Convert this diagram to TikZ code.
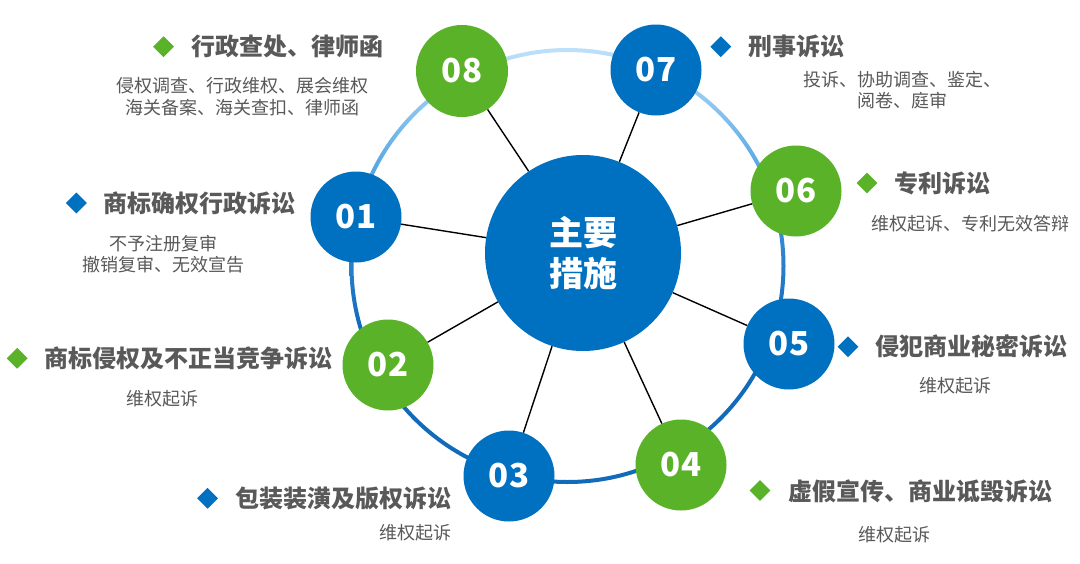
\documentclass[tikz,border=0pt]{standalone}
\usepackage{fontspec}
\newfontfamily\cjk{Noto Sans CJK SC}
\usetikzlibrary{shapes.geometric}
\definecolor{cblue}{RGB}{0,112,192}
\definecolor{cgreen}{RGB}{90,178,40}
\definecolor{tgray}{RGB}{89,89,89}
\definecolor{ringD}{RGB}{18,106,187}
\definecolor{ringM}{RGB}{43,130,204}
\definecolor{ringL}{RGB}{92,170,229}
\definecolor{ringT}{RGB}{190,225,250}
\pgfdeclareverticalshading{ringshade}{100bp}{color(0bp)=(ringD); color(43bp)=(ringD); color(51bp)=(ringM); color(62bp)=(ringL); color(75bp)=(ringT); color(100bp)=(ringT)}
\tikzset{
  num/.style={circle, inner sep=0pt, minimum size=91pt, text=white, font=\cjk\bfseries\fontsize{33}{36}\selectfont},
  bnum/.style={num, fill=cblue},
  gnum/.style={num, fill=cgreen},
  conn/.style={draw=black, line width=1.4pt},
  dmark/.style={diamond, inner sep=0pt, minimum size=21pt},
  bmark/.style={dmark, fill=cblue},
  gmark/.style={dmark, fill=cgreen},
  ttl/.style={anchor=west, inner sep=0pt, text=tgray, font=\cjk\bfseries\fontsize{24}{28}\selectfont},
  sub/.style={inner sep=0pt, text=tgray, align=center, font=\cjk\fontsize{18}{21.5}\selectfont},
}
\begin{document}
\begin{tikzpicture}[x=1pt,y=-1pt]
\fill[white] (0,0) rectangle (1080,563);
\useasboundingbox (0,0) rectangle (1080,563);
% ring
\coordinate (rc) at (567.5,266);
\shade[shading=ringshade, even odd rule] (rc) circle (218) (rc) circle (214);
% centre
\node[circle, fill=cblue, inner sep=0pt, minimum size=196pt, text=white, align=center,
      font=\cjk\bfseries\fontsize{34}{41}\selectfont] (c) at (583,253) {主要\\措施};
% satellites
\node[bnum] (n1) at (356,217) {01};
\node[gnum] (n2) at (388,365) {02};
\node[bnum] (n3) at (509,476) {03};
\node[gnum] (n4) at (681,465) {04};
\node[bnum] (n5) at (789,344) {05};
\node[gnum] (n6) at (796,191) {06};
\node[bnum] (n7) at (656,70) {07};
\node[gnum, minimum size=92pt] (n8) at (462,71) {08};
\foreach \i in {1,...,8} \draw[conn] (c) -- (n\i);
% labels 08
\node[gmark] (m8) at (163.6,46.7) {};
\node[ttl] (t8) at (191,46.7) {行政查处、律师函};
\node[sub] (s8) at (242,96.7) {侵权调查、行政维权、展会维权\\海关备案、海关查扣、律师函};
% 01
\node[bmark] (m1) at (76.4,203) {};
\node[ttl] (t1) at (103,203) {商标确权行政诉讼};
\node[sub] (s1) at (163,254) {不予注册复审\\撤销复审、无效宣告};
% 02
\node[gmark] (m2) at (17.2,358.3) {};
\node[ttl] (t2) at (44.8,358.3) {商标侵权及不正当竞争诉讼};
\node[sub] (s2) at (162,398.3) {维权起诉};
% 03
\node[bmark] (m3) at (207.6,498.3) {};
\node[ttl] (t3) at (235,498.3) {包装装潢及版权诉讼};
\node[sub] (s3) at (415,532.3) {维权起诉};
% 07
\node[bmark] (m7) at (720.8,46.7) {};
\node[ttl] (t7) at (748,46.7) {刑事诉讼};
\node[sub] (s7) at (902,90.3) {投诉、协助调查、鉴定、\\阅卷、庭审};
% 06
\node[gmark] (m6) at (867,183) {};
\node[ttl] (t6) at (894.7,183.3) {专利诉讼};
\node[sub] (s6) at (970,223.3) {维权起诉、专利无效答辩};
% 05
\node[bmark] (m5) at (848,346.7) {};
\node[ttl] (t5) at (875.7,346.7) {侵犯商业秘密诉讼};
\node[sub] (s5) at (955,386) {维权起诉};
% 04
\node[gmark] (m4) at (760,490.5) {};
\node[ttl] (t4) at (788.6,491.7) {虚假宣传、商业诋毁诉讼};
\node[sub] (s4) at (894.7,535) {维权起诉};
\end{tikzpicture}
\end{document}
